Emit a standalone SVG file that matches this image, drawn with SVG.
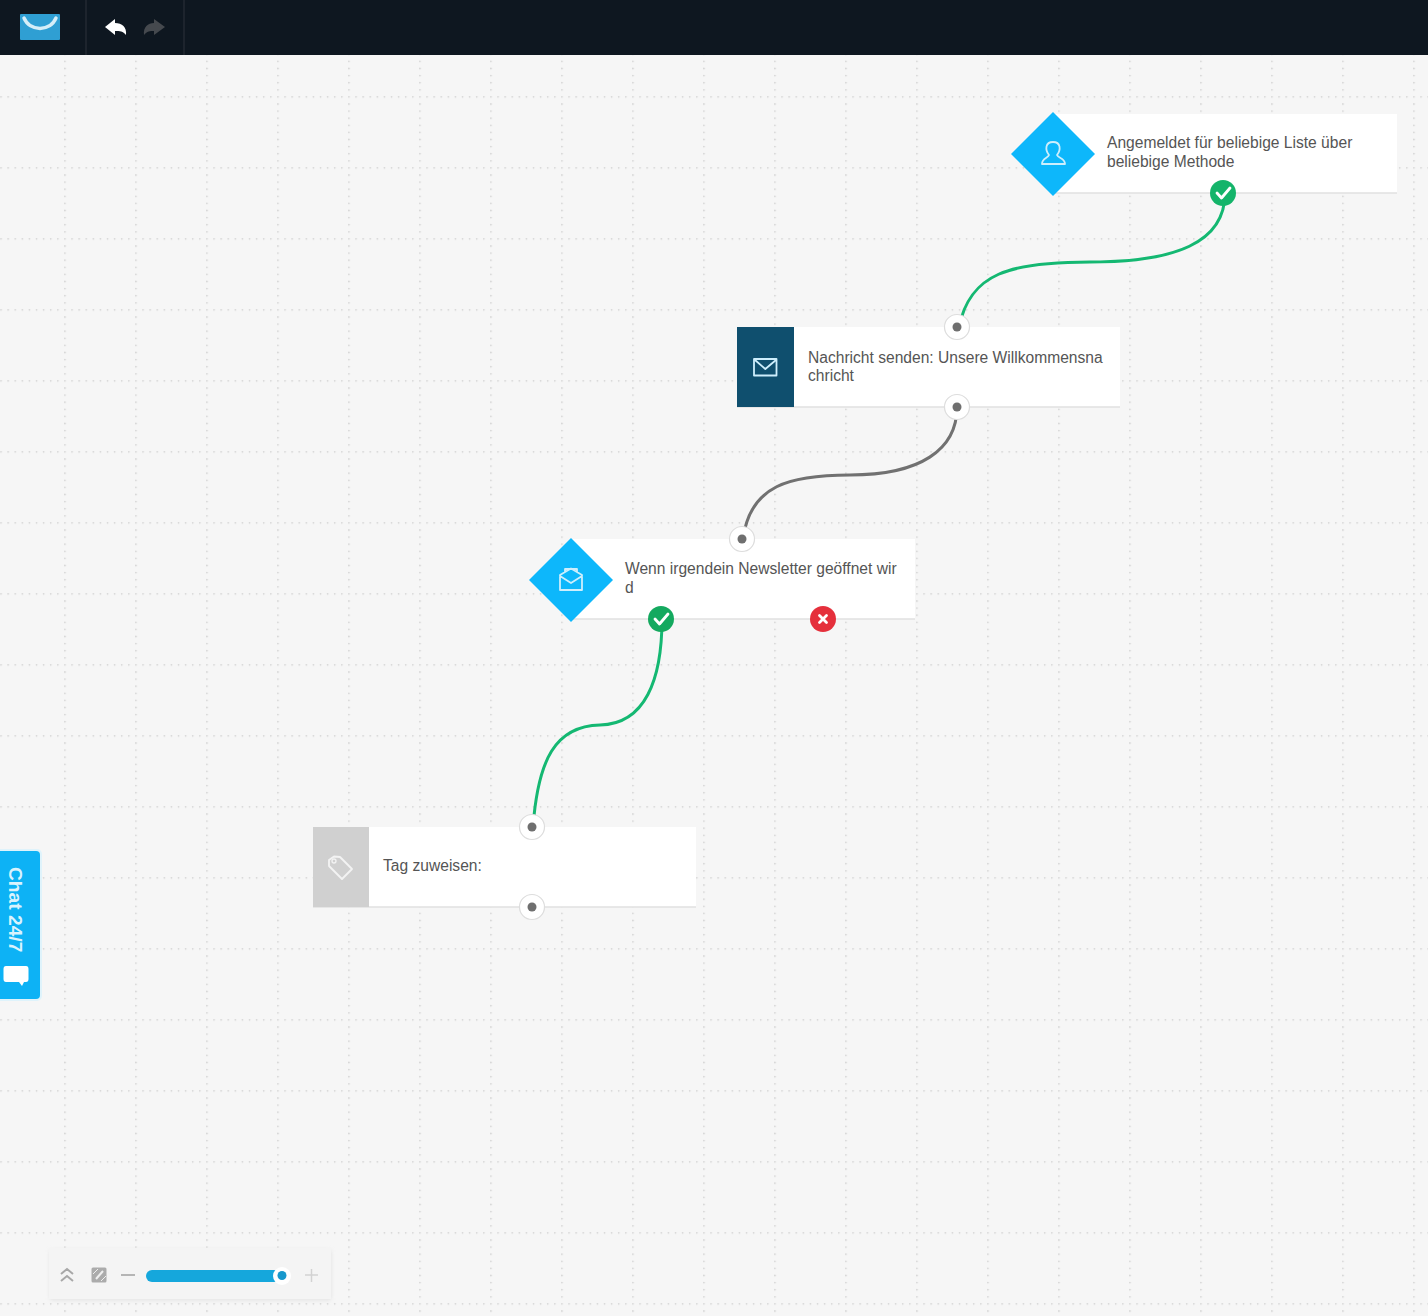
<svg xmlns="http://www.w3.org/2000/svg" width="1428" height="1316" viewBox="0 0 1428 1316">
<style>
.t{font-family:"Liberation Sans",Arial,sans-serif;font-size:15.6px;fill:#555}
.card{fill:#fff}
.edge{fill:none;stroke-width:3;stroke-linecap:round}
.base{stroke:#e0e0e0;stroke-width:1.5}
.ic{fill:none;stroke:#cdeefc;stroke-width:1.8;stroke-linejoin:round;stroke-linecap:round}
.port{fill:#fff;stroke:#ddd;stroke-width:1.2}
.dot{fill:#6f6f6f}
.mk{fill:none;stroke:#fff;stroke-width:2.8;stroke-linecap:round;stroke-linejoin:round}
</style>
<defs>
<pattern id="grid" x="64.200" y="96.200" width="71" height="71" patternUnits="userSpaceOnUse">
<g fill="#c8c8c8">
<circle cx="0.8" cy="0.8" r="0.8"/><circle cx="7.9" cy="0.8" r="0.8"/><circle cx="15" cy="0.8" r="0.8"/><circle cx="22.1" cy="0.8" r="0.8"/><circle cx="29.2" cy="0.8" r="0.8"/><circle cx="36.3" cy="0.8" r="0.8"/><circle cx="43.4" cy="0.8" r="0.8"/><circle cx="50.5" cy="0.8" r="0.8"/><circle cx="57.6" cy="0.8" r="0.8"/><circle cx="64.7" cy="0.8" r="0.8"/>
<circle cx="0.8" cy="7.9" r="0.8"/><circle cx="0.8" cy="15" r="0.8"/><circle cx="0.8" cy="22.1" r="0.8"/><circle cx="0.8" cy="29.2" r="0.8"/><circle cx="0.8" cy="36.3" r="0.8"/><circle cx="0.8" cy="43.4" r="0.8"/><circle cx="0.8" cy="50.5" r="0.8"/><circle cx="0.8" cy="57.6" r="0.8"/><circle cx="0.8" cy="64.7" r="0.8"/>
</g>
</pattern>
<filter id="soft" x="-10%" y="-20%" width="120%" height="140%"><feGaussianBlur stdDeviation="2"/></filter>
</defs>
<rect width="1428" height="1316" fill="#f6f6f6"/>
<rect y="55" width="1428" height="1261" fill="url(#grid)"/>

<g id="topbar">
<rect width="1428" height="55" fill="#0e1720"/>
<path d="M86 0V55M184 0V55" stroke="#2c333b" stroke-width="1"/>
<rect x="20" y="14" width="40" height="26" rx="1" fill="#2f9fd3"/>
<path d="M24 18C30 32 50 32 56 18" fill="none" stroke="#d5eef8" stroke-width="3.5" stroke-linecap="round"/>
<path d="M105 27L115 19V23C122 23 127 27 126 35C123 31 120 31 115 31V35Z" fill="#fff"/>
<path d="M165 27L154 19V23C148 23 143 27 144 35C147 31 150 31 154 31V35Z" fill="#45494e"/>
</g>

<g id="connectors">
<path class="edge" stroke="#14b872" d="M1225 193C1225 243 1175 262 1090 262C1010 262 970 273 959 327"/>
<path class="edge" stroke="#717171" d="M957 407C957 450 920 475 850 475C790 475 750 485 743 539"/>
<path class="edge" stroke="#14b872" d="M662 619C662 680 645 724 600 725C555 726 538 760 533 827"/>
</g>

<g id="node-trigger">
<rect class="card" x="1053" y="114" width="344" height="79"/>
<path class="base" d="M1053 193H1397"/>
<path d="M1053 112L1095 154L1053 196L1011 154Z" fill="#0db7fb"/>
<path class="ic" d="M1042 164C1042 158 1048 158 1049 155C1045 150 1045 142 1053 142C1061 142 1061 150 1057 155C1058 158 1065 158 1065 164Z"/>
<text class="t"><tspan x="1107" y="148">Angemeldet für beliebige Liste über</tspan><tspan x="1107" y="167">beliebige Methode</tspan></text>
<circle cx="1223" cy="193" r="13" fill="#14b46a"/>
<path class="mk" d="M1217 193L1221.500 198L1230 188"/>
</g>

<g id="node-message">
<rect class="card" x="737" y="327" width="383" height="80"/>
<path class="base" d="M737 407H1120"/>
<rect x="737" y="327" width="57" height="80" fill="#0f4f6e"/>
<rect class="ic" x="754" y="359" width="22.500" height="16.500"/>
<path class="ic" d="M755 360L765.300 369L776 360"/>
<text class="t"><tspan x="808" y="363">Nachricht senden: Unsere Willkommensna</tspan><tspan x="808" y="381">chricht</tspan></text>
<circle class="port" cx="957" cy="327" r="12.500"/><circle class="dot" cx="957" cy="327" r="4.500"/>
<circle class="port" cx="957" cy="407" r="12.500"/><circle class="dot" cx="957" cy="407" r="4.500"/>
</g>

<g id="node-condition">
<rect class="card" x="571" y="539" width="344" height="80"/>
<path class="base" d="M571 619H915"/>
<path d="M571 538L613 580L571 622L529 580Z" fill="#0db7fb"/>
<path class="ic" d="M560 575L571 568.500L582 575V590H560Z M560 576L571 583L582 576 M565 572V569H577V572"/>
<text class="t"><tspan x="625" y="574">Wenn irgendein Newsletter geöffnet wir</tspan><tspan x="625" y="593">d</tspan></text>
<circle class="port" cx="742" cy="539" r="12.500"/><circle class="dot" cx="742" cy="539" r="4.500"/>
<circle cx="661" cy="619" r="13" fill="#14a95f"/>
<path class="mk" d="M655 619L659.500 624L668 614"/>
<circle cx="823" cy="619" r="13" fill="#e5303c"/>
<path class="mk" d="M819.500 615.500L826.500 622.500M826.500 615.500L819.500 622.500"/>
</g>

<g id="node-tag">
<rect class="card" x="313" y="827" width="383" height="80"/>
<path class="base" d="M313 907H696"/>
<rect x="313" y="827" width="56" height="80" fill="#d0d0d0"/>
<path d="M329 860L334 856.500L340 857L352 869L342 879L329 866Z" fill="none" stroke="#f3f3f3" stroke-width="1.800" stroke-linejoin="round"/>
<circle cx="334" cy="861" r="2" fill="none" stroke="#f3f3f3" stroke-width="1.300"/>
<text class="t" x="383" y="871">Tag zuweisen:</text>
<circle class="port" cx="532" cy="827" r="12.500"/><circle class="dot" cx="532" cy="827" r="4.500"/>
<circle class="port" cx="532" cy="907" r="12.500"/><circle class="dot" cx="532" cy="907" r="4.500"/>
</g>

<g id="chat-tab">
<rect x="-8" y="849" width="50" height="152" rx="5" fill="#dff3fb"/>
<rect x="-8" y="851" width="48" height="148" rx="4" fill="#0db2f5"/>
<text transform="translate(8.500 867) rotate(90)" style="font-family:'Liberation Sans',Arial,sans-serif;font-size:19.2px;font-weight:700;fill:#d9f3fd">Chat 24/7</text>
<path d="M6 966H26Q28.500 966 28.500 969V979Q28.500 982 26 982H24L22 986L19 982H6Q3.500 982 3.500 979V969Q3.500 966 6 966Z" fill="#fff"/>
</g>

<g id="zoom-bar">
<rect x="50" y="1250" width="281" height="50" fill="#d8d8d8" opacity="0.7" filter="url(#soft)"/>
<rect x="49" y="1248" width="282" height="51" fill="#f4f4f4"/>
<path d="M61 1274L67 1269L73 1274M61 1281L67 1276L73 1281" fill="none" stroke="#a8a8a8" stroke-width="2"/>
<rect x="91.500" y="1267.500" width="15" height="15" rx="1.500" fill="#ababab"/>
<path d="M96 1279L103 1271" stroke="#eee" stroke-width="2"/><path d="M93 1274L98 1269M101 1281L106 1276" stroke="#eee" stroke-width="1"/>
<path d="M121 1275H135" stroke="#b5b5b5" stroke-width="2"/>
<rect x="146" y="1270" width="134" height="12" rx="6" fill="#15a7dc"/>
<circle cx="282" cy="1276" r="9" fill="#fff"/>
<circle cx="282" cy="1275.500" r="4.500" fill="#1798cc"/>
<path d="M305 1275H318M311.500 1269V1282" stroke="#d2d2d2" stroke-width="1.500"/>
</g>
</svg>
